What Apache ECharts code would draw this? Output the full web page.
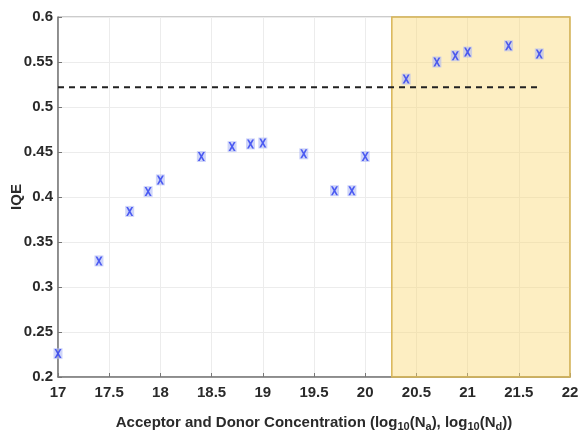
<!DOCTYPE html>
<html><head><meta charset="utf-8">
<script src="https://cdn.jsdelivr.net/npm/echarts@6/dist/echarts.min.js"></script>
<style>html,body{margin:0;padding:0;background:#fff}#c{width:579px;height:442px}</style>
</head><body><div id="c"></div>
<script>
const xValues = [17.0, 17.4, 17.7, 17.88, 18.0, 18.4, 18.7, 18.88, 19.0, 19.4, 19.7, 19.87, 20.0, 20.4, 20.7, 20.88, 21.0, 21.4, 21.7];
const iqeValues = [0.226, 0.329, 0.384, 0.406, 0.419, 0.445, 0.456, 0.459, 0.460, 0.448, 0.407, 0.407, 0.445, 0.531, 0.550, 0.557, 0.561, 0.568, 0.559];
const thresholdIQE = 0.522;
const thresholdSpan = [17.0, 21.7];
const shadedRange = [20.26, 22.0];
const xTicks = [17, 17.5, 18, 18.5, 19, 19.5, 20, 20.5, 21, 21.5, 22];
const yTicks = [0.2, 0.25, 0.3, 0.35, 0.4, 0.45, 0.5, 0.55, 0.6];

const pts = xValues.map((x, i) => [x, iqeValues[i]]);
const xPath = 'path://M0,0 L2.6,0 L5,3.2 L7.4,0 L10,0 L6.4,5 L10,10 L7.4,10 L5,6.8 L2.6,10 L0,10 L3.6,5 Z';
const font = 'Liberation Sans, Arial, sans-serif';
const chart = echarts.init(document.getElementById('c'));
chart.setOption({
  animation: false,
  grid: {left: 58, right: 9, top: 17, bottom: 65, containLabel: false, outerBoundsMode: 'none',
    show: true, borderColor: '#999', borderWidth: 1},
  xAxis: {
    type: 'value', min: xTicks[0], max: xTicks[xTicks.length - 1], interval: 0.5,
    axisLine: {onZero: false, lineStyle: {color: '#777', width: 1.5}},
    axisTick: {inside: true, length: 4, lineStyle: {color: '#777'}},
    splitLine: {show: true, lineStyle: {color: '#ececec'}},
    axisLabel: {color: '#2a2a2a', fontSize: 15, fontWeight: 'bold', fontFamily: font, margin: 8,
      formatter: v => String(v)},
    name: '{n|Acceptor and Donor Concentration (log}{s|10}{n|(N}{s|a}{n|), log}{s|10}{n|(N}{s|d}{n|))}',
    nameLocation: 'middle', nameGap: 36, nameMoveOverlap: false,
    nameTextStyle: {rich: {
      n: {fontSize: 15, fontWeight: 'bold', fontFamily: font, color: '#2a2a2a'},
      s: {fontSize: 11, fontWeight: 'bold', fontFamily: font, color: '#2a2a2a', verticalAlign: 'bottom', padding: [8, 0, 0, 0]}
    }}
  },
  yAxis: {
    type: 'value', min: yTicks[0], max: yTicks[yTicks.length - 1], interval: 0.05,
    axisLine: {onZero: false, lineStyle: {color: '#777', width: 1.5}},
    axisTick: {inside: true, length: 4, lineStyle: {color: '#777'}},
    splitLine: {show: true, lineStyle: {color: '#ececec'}},
    axisLabel: {color: '#2a2a2a', fontSize: 15, fontWeight: 'bold', fontFamily: font, margin: 5,
      formatter: v => String(+v.toFixed(2))},
    name: 'IQE', nameLocation: 'middle', nameGap: 34, nameRotate: 90, nameMoveOverlap: false,
    nameTextStyle: {fontSize: 15, fontWeight: 'bold', fontFamily: font, color: '#2a2a2a'}
  },
  series: [
    {
      type: 'line', data: [], silent: true,
      markArea: {silent: true,
        itemStyle: {color: 'rgba(250,215,110,0.42)', borderColor: '#d8b555', borderWidth: 1.5},
        data: [[{xAxis: shadedRange[0], yAxis: yTicks[0]}, {xAxis: shadedRange[1], yAxis: yTicks[yTicks.length - 1]}]]}
    },
    {
      type: 'line', data: [[thresholdSpan[0], thresholdIQE], [thresholdSpan[1], thresholdIQE]],
      symbol: 'none', lineStyle: {color: '#222', width: 2, type: [6, 5]}, z: 3
    },
    {
      type: 'scatter', data: pts, symbol: 'rect', symbolSize: [9, 11],
      itemStyle: {color: 'rgba(175,185,245,0.75)'}, z: 4
    },
    {
      type: 'scatter', data: pts, symbol: xPath, symbolSize: [7, 9],
      itemStyle: {color: '#2a3cf0'}, z: 5
    }
  ]
});
</script></body></html>
